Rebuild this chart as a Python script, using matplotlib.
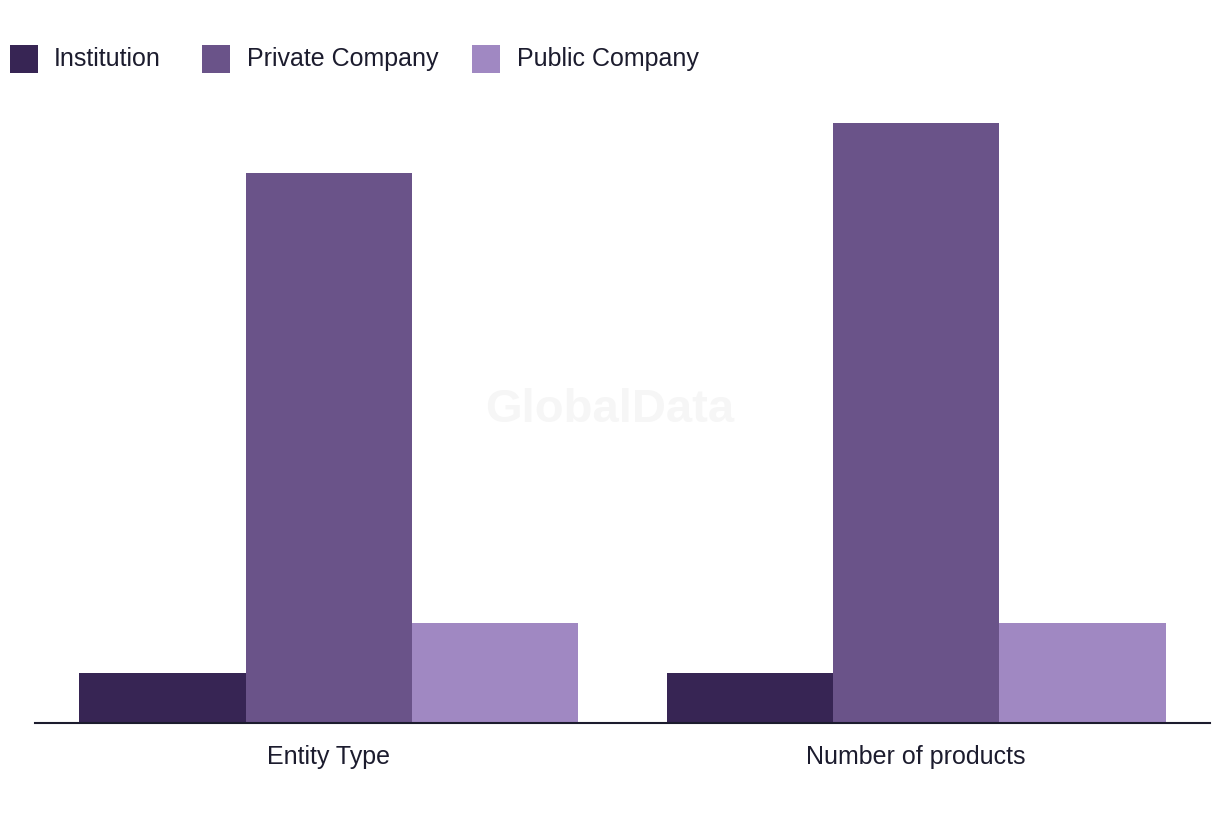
import matplotlib
matplotlib.use("Agg")
import matplotlib.pyplot as plt
from matplotlib.patches import Rectangle
import numpy as np

plt.rcParams['font.family'] = ['Liberation Sans', 'DejaVu Sans']

categories = ["Entity Type", "Number of products"]
series_names = ["Institution", "Private Company", "Public Company"]
institution = [1, 1]
private_company = [11, 12]
public_company = [2, 2]
colors = ["#372554", "#6a5389", "#a088c2"]
text_color = "#1c1c2e"

W, H = 1220, 820
fig = plt.figure(figsize=(W / 100, H / 100), dpi=100)
# axes: x 35..1210 px, baseline at y=724, top at ~99
ax = fig.add_axes([35 / W, (H - 724) / H, (1210 - 35) / W, (724 - 99) / H])

x = np.arange(len(categories))
bw = 0.85 / 3
vals = [institution, private_company, public_company]
for i, (name, v) in enumerate(zip(series_names, vals)):
    ax.bar(x + (i - 1) * bw, v, width=bw, color=colors[i], label=name, linewidth=0)

ax.set_xlim(-0.5, 1.5)
ax.set_ylim(0, 12.5)
ax.set_yticks([])
ax.set_xticks(x)
ax.set_xticklabels(categories, fontsize=18, color=text_color)
ax.tick_params(axis='x', length=0, pad=15)
for s in ["top", "right", "left"]:
    ax.spines[s].set_visible(False)
ax.spines["bottom"].set_color(text_color)
ax.spines["bottom"].set_linewidth(1.5)

# watermark
fig.text(610 / W, 1 - 410 / H, "GlobalData", fontsize=34, fontweight='bold',
         color="#f6f6f6", ha='center', va='center', zorder=0)

# legend (manual, figure pixel layout)
sq_x = [10, 202, 472]
txt_x = [54, 247, 517]
for name, c, sx, tx in zip(series_names, colors, sq_x, txt_x):
    fig.patches.append(Rectangle((sx / W, 1 - 74 / H), 28 / W, 28 / H,
                                 transform=fig.transFigure, color=c, linewidth=0))
    fig.text(tx / W, 1 - 59 / H, name, fontsize=18, color=text_color,
             ha='left', va='center')

fig.savefig("out.png", dpi=100, facecolor="white")
